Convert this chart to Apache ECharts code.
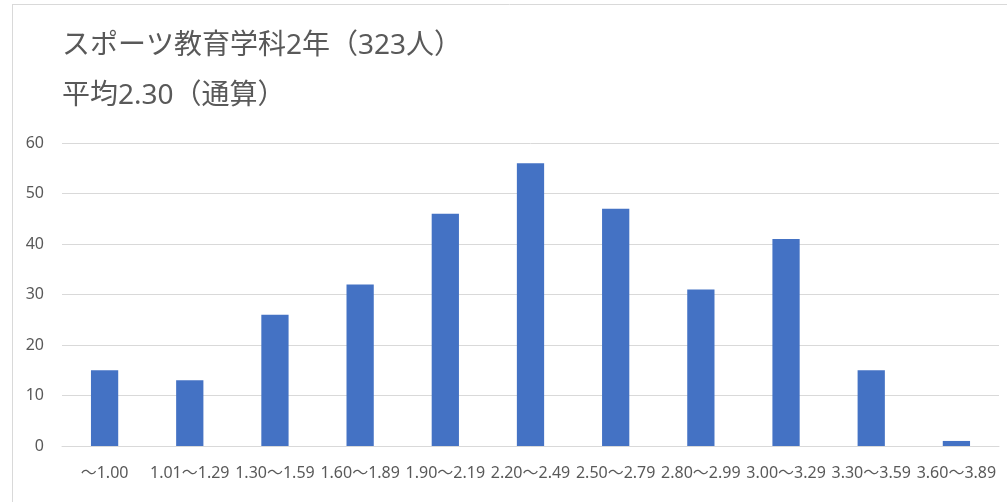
<!DOCTYPE html>
<html>
<head>
<meta charset="utf-8">
<script src="https://cdn.jsdelivr.net/npm/echarts@6/dist/echarts.min.js"></script>
<style>
  html, body { margin: 0; padding: 0; background: #fff; }
  #chart { width: 1007px; height: 502px; }
</style>
</head>
<body>
<div id="chart"></div>
<script>
// 区分（GPA帯）
const categories = ['～1.00', '1.01～1.29', '1.30～1.59', '1.60～1.89', '1.90～2.19',
  '2.20～2.49', '2.50～2.79', '2.80～2.99', '3.00～3.29', '3.30～3.59', '3.60～3.89']
// 人数
const counts = [15, 13, 26, 32, 46, 56, 47, 31, 41, 15, 1]
const titleLines = ['スポーツ教育学科2年（323人）', '平均2.30（通算）']

const textColor = '#595959'
const font = '"Noto Sans", "Noto Sans CJK JP", sans-serif'

const chart = echarts.init(document.getElementById('chart'))
chart.setOption({
  animation: false,
  textStyle: { fontFamily: font },
  graphic: [
    { type: 'line', shape: { x1: 12.5, y1: 4, x2: 12.5, y2: 502 }, style: { stroke: '#d9d9d9', lineWidth: 1 } },
    { type: 'line', shape: { x1: 12, y1: 4.5, x2: 1007, y2: 4.5 }, style: { stroke: '#d9d9d9', lineWidth: 1 } }
  ],
  title: {
    text: titleLines.join('\n'),
    left: 57,
    top: 16,
    textStyle: {
      color: textColor,
      fontSize: 28,
      fontWeight: 'normal',
      lineHeight: 50,
      fontFamily: font
    }
  },
  grid: {
    left: 62,
    right: 8,
    top: 143,
    bottom: 56
  },
  xAxis: {
    type: 'category',
    data: categories,
    axisTick: { show: false },
    axisLine: { show: true, lineStyle: { color: '#d9d9d9', width: 1 } },
    axisLabel: {
      interval: 0,
      color: textColor,
      fontSize: 16,
      margin: 19,
      hideOverlap: false
    }
  },
  yAxis: {
    type: 'value',
    min: 0,
    max: 60,
    interval: 10,
    axisLine: { show: false },
    axisTick: { show: false },
    axisLabel: { color: textColor, fontSize: 16, margin: 18 },
    splitLine: { lineStyle: { color: '#d9d9d9', width: 1 } }
  },
  series: [{
    type: 'bar',
    data: counts,
    barWidth: '32%',
    itemStyle: { color: '#4472C4' }
  }]
})
</script>
</body>
</html>
